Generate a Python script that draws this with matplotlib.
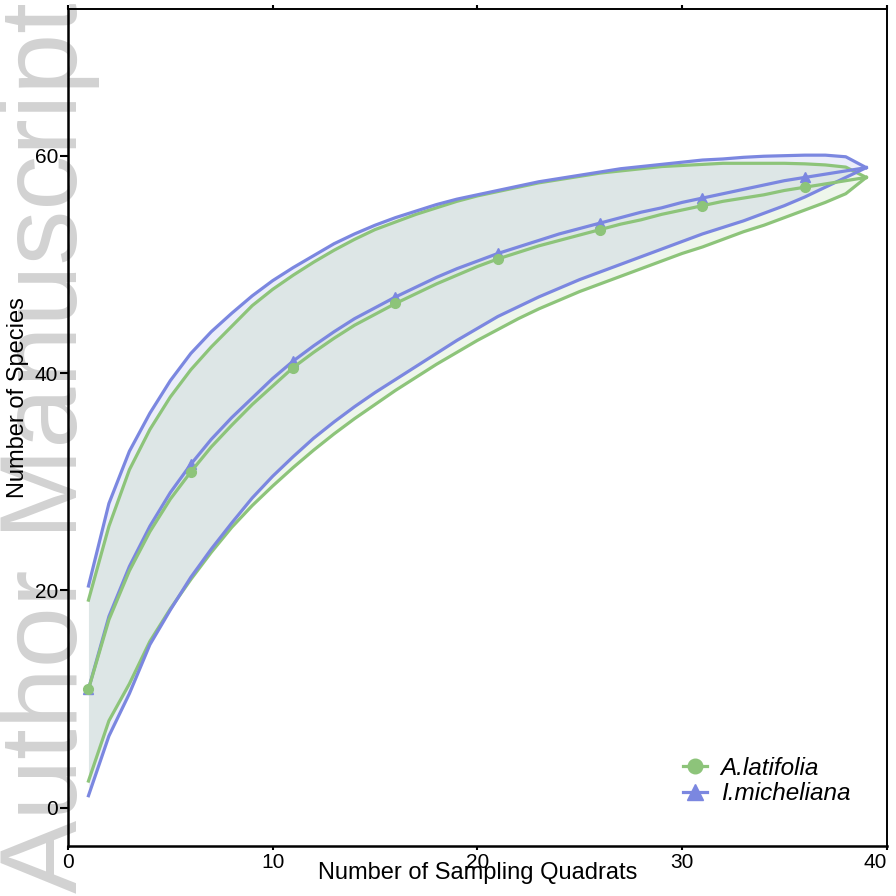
import matplotlib
matplotlib.use("Agg")
import matplotlib.pyplot as plt
import numpy as np

plt.rcParams['font.family'] = ['Liberation Sans', 'DejaVu Sans']

# ---------------- data ----------------
quadrats = list(range(1, 40))

lat_mean = [10.9, 17.3, 21.8, 25.4, 28.4, 30.9, 33.2, 35.2, 37.1, 38.8,
            40.5, 41.9, 43.2, 44.4, 45.4, 46.4, 47.3, 48.2, 49.0, 49.8,
            50.5, 51.1, 51.7, 52.2, 52.7, 53.2, 53.7, 54.1, 54.6, 55.0,
            55.4, 55.8, 56.1, 56.4, 56.8, 57.1, 57.4, 57.7, 58.0]
lat_upper = [19.1, 25.9, 31.1, 34.8, 37.8, 40.3, 42.4, 44.3, 46.2, 47.7,
             49.0, 50.2, 51.3, 52.3, 53.2, 53.9, 54.6, 55.2, 55.8, 56.3,
             56.7, 57.1, 57.5, 57.8, 58.1, 58.4, 58.6, 58.8, 59.0, 59.1,
             59.2, 59.3, 59.3, 59.3, 59.3, 59.25, 59.15, 58.95, 58.0]
lat_lower = [2.45, 8.0, 11.4, 15.3, 18.3, 21.0, 23.5, 25.8, 27.8, 29.6,
             31.3, 32.9, 34.4, 35.8, 37.1, 38.4, 39.6, 40.8, 41.9, 43.0,
             44.0, 45.0, 45.9, 46.7, 47.5, 48.2, 48.9, 49.6, 50.3, 51.0,
             51.6, 52.3, 53.0, 53.6, 54.3, 55.0, 55.7, 56.5, 58.0]

mic_mean = [10.9, 17.6, 22.2, 25.9, 29.0, 31.6, 33.9, 35.9, 37.7, 39.5,
            41.1, 42.5, 43.8, 45.0, 46.0, 47.0, 47.9, 48.8, 49.6, 50.3,
            51.0, 51.6, 52.2, 52.8, 53.3, 53.8, 54.3, 54.8, 55.2, 55.7,
            56.1, 56.5, 56.9, 57.3, 57.7, 58.0, 58.3, 58.6, 58.9]
mic_upper = [20.4, 28.0, 32.8, 36.3, 39.3, 41.8, 43.8, 45.5, 47.1, 48.5,
             49.7, 50.8, 51.9, 52.8, 53.6, 54.3, 54.9, 55.5, 56.0, 56.4,
             56.8, 57.2, 57.6, 57.9, 58.2, 58.5, 58.8, 59.0, 59.2, 59.4,
             59.6, 59.7, 59.85, 59.95, 60.0, 60.05, 60.05, 59.9, 58.9]
mic_lower = [1.1, 6.6, 10.5, 15.0, 18.2, 21.2, 23.8, 26.2, 28.5, 30.5,
             32.3, 34.0, 35.5, 36.9, 38.2, 39.4, 40.6, 41.8, 43.0, 44.1,
             45.2, 46.1, 47.0, 47.8, 48.6, 49.3, 50.0, 50.7, 51.4, 52.1,
             52.8, 53.4, 54.0, 54.7, 55.4, 56.2, 57.1, 58.0, 58.9]

labels = ["A.latifolia", "I.micheliana"]
x_ticks = [0, 10, 20, 30, 40]
y_ticks = [0, 20, 40, 60]

green = "#8dc47a"
blue = "#7b87e0"

# ---------------- figure ----------------
fig = plt.figure(figsize=(8.96, 8.96), dpi=100)
fig.patch.set_facecolor("white")

# watermark
fig.text(77 / 896, 3 / 896, "Author Manuscript", rotation=90,
         rotation_mode="anchor", ha="left", va="baseline",
         fontsize=79, color="#d2d2d2", zorder=-5)

ax = fig.add_axes([68 / 896, 1 - 845.7 / 896, 818.7 / 896, 836.7 / 896])
ax.patch.set_alpha(0)

x = np.array(quadrats)

ax.fill_between(x, mic_lower, mic_upper, color=blue, alpha=0.15, lw=0)
ax.fill_between(x, lat_lower, lat_upper, color=green, alpha=0.15, lw=0)

lw = 2.3
ax.plot(x, lat_upper, color=green, lw=lw)
ax.plot(x, lat_lower, color=green, lw=lw)
ax.plot(x, mic_upper, color=blue, lw=lw)
ax.plot(x, mic_lower, color=blue, lw=lw)

ax.plot(x, mic_mean, color=blue, lw=lw, marker="^", markersize=7.5,
        markevery=slice(0, None, 5), label=labels[1])
ax.plot(x, lat_mean, color=green, lw=lw, marker="o", markersize=7,
        markevery=slice(0, None, 5), label=labels[0])

ax.set_xlim(0, 40)
ax.set_ylim(-3.5, 73.5)
ax.set_xticks(x_ticks)
ax.set_yticks(y_ticks)
ax.set_xticklabels([str(t) for t in x_ticks])
ax.set_yticklabels([str(t) for t in y_ticks])
ax.get_xticklabels()[-1].set_ha("right")

ax.tick_params(axis="x", which="both", top=True, bottom=True, direction="out",
               length=3, width=1.5, pad=2, labelsize=15)
ax.tick_params(axis="y", left=True, right=False, direction="out",
               length=6, width=1.5, pad=1, labelsize=15)

for side in ["left", "bottom"]:
    ax.spines[side].set_linewidth(1.8)
for side in ["top", "right"]:
    ax.spines[side].set_linewidth(1.4)

ax.set_xlabel("Number of Sampling Quadrats", fontsize=17)
ax.xaxis.set_label_coords(0.5, -0.0195)
ax.xaxis.label.set_va("top")
ax.set_ylabel("Number of Species", fontsize=17)
ax.yaxis.set_label_coords(-0.048, 0.536)

handles, labs = ax.get_legend_handles_labels()
order = [1, 0]
leg = ax.legend([handles[i] for i in order], [labs[i] for i in order],
                loc="upper left", bbox_to_anchor=(683 / 896, 1 - 757 / 896),
                bbox_transform=fig.transFigure, frameon=False,
                prop={"style": "italic", "size": 17.5}, handlelength=1.0,
                handletextpad=0.55, borderpad=0, borderaxespad=0,
                labelspacing=0.1, markerscale=1.5)

fig.savefig("out.png", dpi=100, facecolor="white")
